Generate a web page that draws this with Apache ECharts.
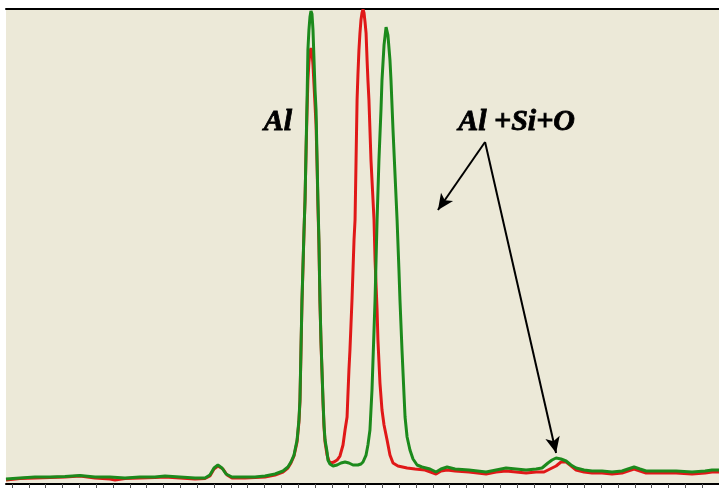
<!DOCTYPE html>
<html>
<head>
<meta charset="utf-8">
<script src="https://cdn.jsdelivr.net/npm/echarts@6/dist/echarts.min.js"></script>
<style>
  html, body { margin: 0; padding: 0; background: #ffffff; }
  #chart { width: 719px; height: 488px; }
</style>
</head>
<body>
<div id="chart"></div>
<script>
// Spectrum: channel number vs. intensity (arbitrary units, full scale 1000)
const channelRange = [-3.5, 417.1];
const tickChannels = [0, 420];      // ticked span of the channel axis
const tickStep = 10;

// Pure Al reference spectrum (red)
const spectrumAl = [
  [-3.5, 8.4], [4.7, 11.6], [13.6, 12.6], [22.4, 13.7], [31.3, 14.7], [40.1, 16.8],
  [49.0, 12.6], [57.8, 10.5], [60.8, 8.4], [66.7, 11.6], [75.5, 12.6], [84.4, 13.7],
  [90.3, 14.7], [99.1, 12.6], [108.0, 10.5], [113.9, 11.6], [116.8, 16.8], [119.2, 31.6],
  [121.5, 37.9], [124.5, 31.6], [126.9, 18.9], [129.8, 12.6], [137.5, 12.6], [143.4, 13.7],
  [149.3, 14.7], [155.2, 18.9],
  [159.9, 25.3], [162.8, 33.7], [164.6, 44.2], [166.4, 58.9], [168.2, 88.4], [169.3, 130.5],
  [169.9, 172.6], [170.5, 277.9], [171.1, 383.1], [172.3, 530.5], [172.9, 597.8], [173.5, 698.9],
  [174.1, 787.3], [174.6, 850.4], [175.2, 888.3], [175.8, 909.4], [176.4, 917.8], [177.0, 909.4],
  [177.6, 882.0], [178.2, 839.9], [178.8, 797.8], [179.4, 755.7], [180.0, 671.5], [180.5, 587.3],
  [181.1, 503.1], [181.7, 383.1], [182.3, 298.9], [182.9, 235.8], [183.5, 172.6], [184.1, 120.0],
  [184.7, 88.4], [185.9, 61.0], [187.0, 48.4], [188.2, 44.2], [190.0, 46.3], [191.8, 50.5],
  [193.5, 58.9], [195.3, 82.1], [196.5, 113.7], [197.7, 141.0], [198.2, 187.3], [198.8, 240.0],
  [199.4, 282.1], [200.0, 334.7], [200.6, 387.3], [201.2, 450.5], [201.8, 513.6], [202.4, 555.7],
  [203.0, 682.0], [203.6, 808.3], [204.1, 861.0], [204.7, 913.6], [205.3, 949.4], [205.9, 976.8],
  [206.5, 991.5], [207.1, 998.9], [207.7, 991.5], [208.3, 972.5], [208.9, 949.4], [209.5, 892.5],
  [210.0, 850.4], [210.6, 808.3], [211.8, 682.0], [213.0, 597.8], [213.6, 555.7], [214.2, 471.5],
  [215.4, 366.3], [215.9, 303.1], [217.1, 212.6], [218.3, 155.8], [219.5, 124.2], [221.3, 92.6],
  [223.0, 61.0], [224.8, 44.2], [227.7, 37.9], [233.1, 33.7], [237.8, 31.6], [243.7, 29.5],
  [250.2, 21.1], [253.1, 27.4], [256.7, 29.5], [261.4, 27.4], [269.6, 25.3], [279.7, 21.1],
  [285.6, 25.3], [291.5, 27.4], [297.4, 25.3], [303.3, 23.2], [309.2, 25.3], [313.9, 25.3],
  [317.4, 31.6], [321.0, 37.9], [323.9, 46.3], [326.9, 46.3], [329.2, 40.0], [332.8, 29.5],
  [337.5, 25.3], [342.2, 23.2], [348.1, 23.2], [354.0, 21.1], [359.9, 23.2], [363.4, 27.4],
  [367.0, 31.6], [370.5, 27.4], [374.1, 23.2], [382.3, 23.2], [391.8, 23.2], [401.2, 21.1],
  [408.9, 23.2], [413.0, 25.3], [417.1, 25.3]
];

// Al + Si + O spectrum (green)
const spectrumAlSiO = [
  [-3.5, 10.5], [4.7, 12.6], [13.6, 14.7], [22.4, 14.7], [31.3, 15.8], [40.1, 17.9],
  [49.0, 14.7], [57.8, 14.7], [66.7, 12.6], [75.5, 14.7], [84.4, 14.7], [90.3, 16.8],
  [99.1, 14.7], [108.0, 12.6], [113.9, 12.6], [116.8, 18.9], [119.2, 33.7], [121.5, 40.0],
  [123.9, 33.7], [126.3, 21.1], [129.8, 14.7], [137.5, 14.7], [143.4, 14.7], [149.3, 16.8],
  [155.2, 21.1],
  [159.9, 27.4], [162.8, 35.8], [164.6, 46.3], [166.4, 61.0], [168.2, 92.6], [169.3, 134.7],
  [169.9, 176.8], [170.5, 282.1], [171.1, 387.3], [172.3, 534.7], [172.9, 597.8], [173.5, 703.1],
  [174.1, 808.3], [174.6, 913.6], [175.2, 955.7], [175.8, 983.0], [176.4, 995.7], [177.0, 989.4],
  [177.6, 955.7], [178.2, 892.5], [178.8, 829.4], [179.4, 787.3], [180.0, 682.0], [180.5, 597.8],
  [181.1, 513.6], [181.7, 387.3], [182.3, 303.1], [182.9, 240.0], [183.5, 176.8], [184.1, 124.2],
  [184.7, 92.6], [185.9, 67.4], [186.4, 50.5], [187.6, 42.1], [189.4, 37.9], [191.8, 40.0],
  [194.1, 44.2], [196.5, 46.3], [198.8, 44.2], [201.2, 40.0], [204.1, 40.0], [205.9, 42.1],
  [207.1, 46.3], [208.9, 61.0], [210.0, 82.1], [211.2, 113.7], [212.4, 197.9], [213.6, 324.2],
  [214.2, 387.3], [214.8, 471.5], [215.4, 555.7], [216.5, 682.0], [217.7, 787.3], [218.3, 850.4],
  [219.5, 924.1], [220.7, 962.0], [221.8, 945.1], [223.0, 892.5], [223.6, 850.4], [224.8, 745.2],
  [226.0, 650.4], [227.2, 555.7], [228.3, 450.5], [228.9, 387.3], [230.1, 282.1], [231.3, 187.3],
  [231.9, 141.0], [233.1, 98.9], [234.8, 71.6], [236.6, 52.6], [239.0, 40.0], [241.9, 35.8],
  [246.6, 31.6], [250.2, 25.3], [253.1, 31.6], [256.7, 35.8], [261.4, 31.6], [269.6, 29.5],
  [279.7, 25.3], [285.6, 29.5], [291.5, 33.7], [297.4, 31.6], [303.3, 29.5], [309.2, 31.6],
  [312.7, 33.7], [316.2, 44.2], [318.6, 50.5], [321.0, 54.7], [323.9, 52.6], [326.9, 48.4],
  [329.8, 40.0], [332.8, 33.7], [337.5, 29.5], [342.2, 27.4], [348.1, 27.4], [354.0, 25.3],
  [359.9, 27.4], [363.4, 31.6], [367.0, 35.8], [370.5, 31.6], [374.1, 27.4], [382.3, 27.4],
  [391.8, 27.4], [401.2, 25.3], [408.9, 27.4], [413.0, 29.5], [417.1, 29.5]
];

// Annotation text and pointer arrows, in channel / intensity units
const peakLabels = [
  [156.9, 762, 'Al'],
  [297.7, 762, 'Al +Si+O']
];
const arrowStart = [279.1, 720];
const arrowTargets = [
  [251.3, 576.8],
  [321.0, 65.3]
];

const chart = echarts.init(document.getElementById('chart'), null, { renderer: 'canvas' });

const hiddenParts = {
  axisTick: { show: false },
  axisLabel: { show: false },
  splitLine: { show: false }
};

chart.setOption({
  animation: false,
  backgroundColor: '#ffffff',
  grid: [
    { left: 6, right: 0, top: 9, bottom: 4, show: true, backgroundColor: '#ECE9D8', borderWidth: 0 },
    { left: 12, width: 711.9, top: 9, bottom: 4 }
  ],
  xAxis: [
    {
      gridIndex: 0, type: 'value', min: channelRange[0], max: channelRange[1], position: 'bottom',
      axisLine: { show: true, onZero: false, lineStyle: { color: '#000000', width: 2 } },
      ...hiddenParts
    },
    {
      gridIndex: 0, type: 'value', min: channelRange[0], max: channelRange[1], position: 'top',
      axisLine: { show: true, onZero: false, lineStyle: { color: '#000000', width: 2 } },
      ...hiddenParts
    },
    {
      gridIndex: 1, type: 'value', min: tickChannels[0], max: tickChannels[1], interval: tickStep,
      position: 'bottom',
      axisLine: { show: false, onZero: false },
      axisTick: { show: true, inside: false, length: 4, lineStyle: { color: '#555555', width: 1 } },
      axisLabel: { show: false },
      splitLine: { show: false }
    }
  ],
  yAxis: [
    { gridIndex: 0, type: 'value', min: 0, max: 1000, show: false },
    { gridIndex: 1, type: 'value', min: 0, max: 1000, show: false }
  ],
  series: [
    {
      name: 'Al',
      type: 'line',
      xAxisIndex: 0, yAxisIndex: 0,
      data: spectrumAl,
      showSymbol: false,
      lineStyle: { color: '#E01818', width: 3 },
      z: 2
    },
    {
      name: 'Al+Si+O',
      type: 'line',
      xAxisIndex: 0, yAxisIndex: 0,
      data: spectrumAlSiO,
      showSymbol: false,
      lineStyle: { color: '#1C8A1C', width: 3 },
      z: 3,
      markLine: {
        silent: true,
        symbol: ['none', 'arrow'],
        symbolSize: [11, 16],
        lineStyle: { color: '#000000', width: 2, type: 'solid' },
        label: { show: false },
        data: arrowTargets.map(t => [{ coord: arrowStart }, { coord: t }])
      }
    },
    {
      name: 'labels',
      type: 'scatter',
      xAxisIndex: 0, yAxisIndex: 0,
      data: peakLabels,
      symbolSize: 1,
      itemStyle: { color: 'rgba(0,0,0,0)' },
      silent: true,
      z: 5,
      label: {
        show: true,
        position: 'inside',
        formatter: p => p.value[2],
        color: '#000000',
        opacity: 1,
        textBorderColor: '#000000',
        textBorderWidth: 0.8,
        fontFamily: '"Liberation Serif", "Times New Roman", serif',
        fontStyle: 'italic',
        fontWeight: 'bold',
        fontSize: 30
      }
    }
  ]
});
</script>
</body>
</html>
